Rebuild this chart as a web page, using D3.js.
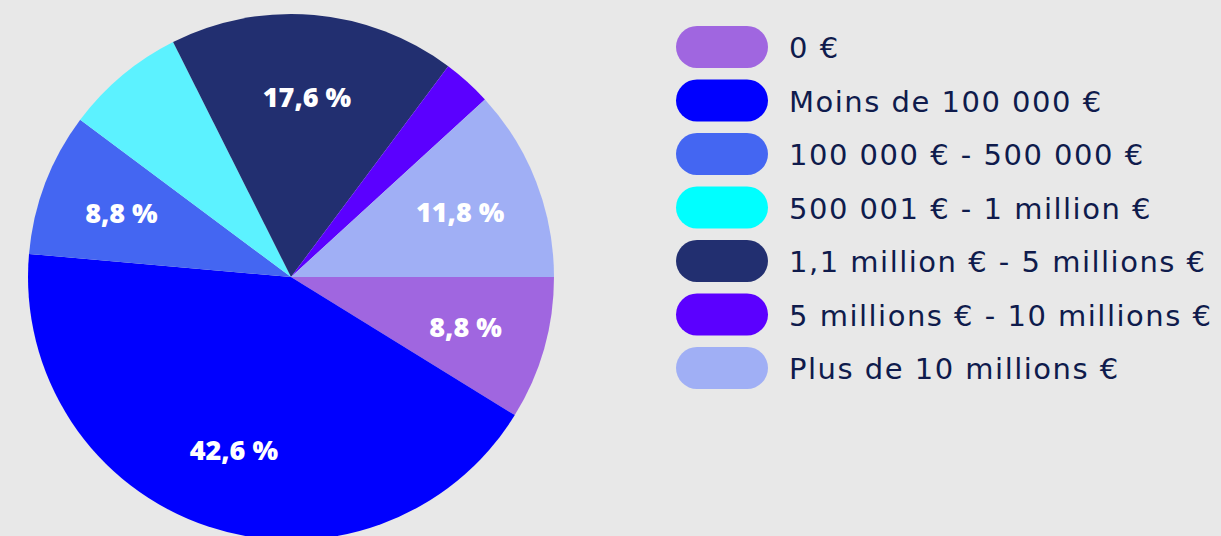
<!DOCTYPE html>
<html>
<head>
<meta charset="utf-8">
<script src="https://cdn.jsdelivr.net/npm/d3@7"></script>
<style>
  body { margin: 0; background: #e8e8e8; }
  .inside { fill: #fff; font-family: "Open Sans", sans-serif; font-weight: 800; font-size: 27px; text-anchor: middle; dominant-baseline: central; }
  .label { fill: #0f1b4c; font-family: "DejaVu Sans", sans-serif; font-size: 29px; letter-spacing: 1.5px; dominant-baseline: central; }
</style>
</head>
<body>
<script>
var width = 1221, height = 536;

// data
var categories = ["0 €", "Moins de 100 000 €", "100 000 € - 500 000 €", "500 001 € - 1 million €",
    "1,1 million € - 5 millions €", "5 millions € - 10 millions €", "Plus de 10 millions €"];
var shares = [8.8, 42.6, 8.8, 7.4, 17.6, 3.0, 11.8];
var shownLabels = ["8,8 %", "42,6 %", "8,8 %", "", "17,6 %", "", "11,8 %"];
var sliceColors = ["#a066e0", "#0000ff", "#4466f2", "#5cf2ff", "#222f70", "#5b00ff", "#a0aff5"];
var legendColors = ["#a066e0", "#0000ff", "#4466f2", "#00ffff", "#222f70", "#5b00ff", "#a0aff5"];

var details = categories.map(function(c, i) {
    return {name: c, value: shares[i], label: shownLabels[i], i: i};
});

var svg = d3.select("body").append("svg")
    .attr("width", width).attr("height", height)
    .style("display", "block")
    .style("background", "#e8e8e8");

var radius = 263;
var pie = d3.pie().sort(null).value(function(d){ return d.value; })
    .startAngle(Math.PI / 2).endAngle(Math.PI / 2 + 2 * Math.PI);
var data = pie(details);

var segments = d3.arc().innerRadius(0).outerRadius(radius);
var labelArc = d3.arc().innerRadius(100).outerRadius(radius);

var g = svg.append("g").attr("transform", "translate(291,277)");
g.selectAll("path").data(data).enter().append("path")
    .attr("d", segments)
    .attr("fill", function(d){ return sliceColors[d.data.i]; });

g.selectAll("text").data(data.filter(function(d){ return d.data.label; }))
    .enter().append("text").classed("inside", true)
    .each(function(d){
        var c = labelArc.centroid(d);
        d3.select(this).attr("x", c[0]).attr("y", c[1]).text(d.data.label);
    });

// legend
var legend = svg.append("g").attr("transform", "translate(676, 47)")
    .selectAll(".legends").data(details).enter().append("g").classed("legends", true)
    .attr("transform", function(d, i){ return "translate(0," + (i * 53.5) + ")"; });

legend.append("rect").attr("x", 0).attr("y", -21).attr("width", 92).attr("height", 42)
    .attr("rx", 21).attr("ry", 21)
    .attr("fill", function(d){ return legendColors[d.i]; });
legend.append("text").classed("label", true)
    .attr("x", 113).attr("y", 1)
    .text(function(d){ return d.name; });
</script>
</body>
</html>
